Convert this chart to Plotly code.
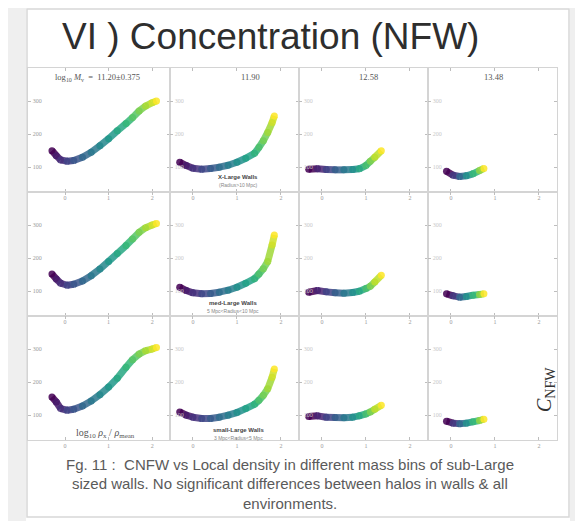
import plotly.graph_objects as go
from plotly.colors import sample_colorscale

# page body has an 8px margin, so the figure is shrunk and coordinates shifted
OFF = 8
W, H = 583 - OFF, 521 - OFF

# ---------------- data ----------------
mass_labels = ["log<sub>10</sub> <i>M</i><sub>v</sub>  =  11.20±0.375", "11.90", "12.58", "13.48"]
wall_titles = ["X-Large Walls", "med-Large Walls", "small-Large Walls"]
wall_sub = ["(Radius&gt;10 Mpc)", "5 Mpc&lt;Radius&lt;10 Mpc", "3 Mpc&lt;Radius&lt;5 Mpc"]
y_ticks = [100, 200, 300]
x_ticks = [0, 1, 2]

x_c1 = [-0.3, -0.2, -0.1, 0.05, 0.2, 0.4, 0.6, 0.8, 1.0, 1.2, 1.4, 1.55, 1.7, 1.85, 2.0, 2.1]
x_c2 = [-0.3, -0.15, 0.0, 0.2, 0.4, 0.6, 0.8, 1.0, 1.2, 1.4, 1.5, 1.6, 1.7, 1.8, 1.85]
x_c3 = [-0.3, -0.1, 0.1, 0.3, 0.5, 0.7, 0.85, 1.0, 1.1, 1.2, 1.35]
x_c4 = [-0.1, 0.05, 0.2, 0.35, 0.5, 0.65, 0.75]

y_r1c1 = [150, 135, 122, 118, 120, 130, 145, 165, 186, 210, 232, 250, 270, 285, 295, 300]
y_r1c2 = [115, 105, 97, 94, 96, 100, 106, 115, 127, 142, 160, 180, 205, 235, 255]
y_r1c3 = [94, 95, 93, 92, 92, 93, 95, 105, 118, 130, 150]
y_r1c4 = [88, 76, 72, 74, 80, 90, 96]

y_r2c1 = [152, 137, 124, 118, 121, 131, 147, 167, 190, 214, 238, 258, 278, 292, 300, 305]
y_r2c2 = [112, 102, 95, 92, 93, 97, 103, 112, 124, 138, 152, 168, 190, 240, 270]
y_r2c3 = [97, 102, 98, 95, 94, 96, 100, 108, 115, 128, 148]
y_r2c4 = [92, 86, 82, 84, 88, 90, 92]

y_r3c1 = [155, 140, 120, 115, 118, 128, 143, 162, 185, 212, 245, 268, 285, 295, 300, 305]
y_r3c2 = [110, 100, 94, 90, 90, 94, 100, 108, 120, 133, 145, 160, 180, 215, 240]
y_r3c3 = [96, 98, 94, 93, 92, 94, 98, 104, 110, 118, 130]
y_r3c4 = [82, 76, 74, 76, 80, 84, 88]

xs = [x_c1, x_c2, x_c3, x_c4]
ys = [[y_r1c1, y_r1c2, y_r1c3, y_r1c4],
      [y_r2c1, y_r2c2, y_r2c3, y_r2c4],
      [y_r3c1, y_r3c2, y_r3c3, y_r3c4]]

# ---------------- layout geometry (screen pixels) ----------------
col_px = [(28, 170), (170, 299), (299, 428), (428, 557)]
row_px = [(68, 192), (192, 316), (316, 440)]
x_ranges = [[-0.85, 2.41], [-0.52, 2.41], [-0.52, 2.41], [-0.52, 2.41]]
y_range = [25, 400]


def px(p):
    return (p - OFF) / W


def py(p):
    return 1 - (p - OFF) / H


fig = go.Figure()
layout = {}
axis_common = dict(showgrid=False, zeroline=False, showline=True, linecolor="#d4d4d4",
                   linewidth=1, mirror="allticks", ticks="inside", ticklen=3,
                   tickcolor="#bdbdbd")

k = 0
for r in range(3):
    for c in range(4):
        k += 1
        sx = "" if k == 1 else str(k)
        xa = dict(axis_common, domain=[px(col_px[c][0]), px(col_px[c][1])],
                  range=x_ranges[c], tickvals=x_ticks,
                  tickfont=dict(size=6, color="#9a9a9a", family="Liberation Serif"),
                  anchor="y" + sx)
        ya = dict(axis_common, domain=[py(row_px[r][1]), py(row_px[r][0])],
                  range=y_range, tickvals=y_ticks,
                  ticklabelposition="inside",
                  tickfont=dict(size=6, color="#9a9a9a" if c == 0 else "#c8c8c8",
                                family="Liberation Serif"),
                  anchor="x" + sx)
        layout["xaxis" + sx] = xa
        layout["yaxis" + sx] = ya

        x = xs[c]
        y = ys[r][c]
        n = len(x)
        cols = sample_colorscale("Viridis", [i / (n - 1) for i in range(n)])
        for i in range(n - 1):
            fig.add_trace(go.Scatter(x=x[i:i + 2], y=y[i:i + 2], mode="lines",
                                     line=dict(color=cols[i], width=7),
                                     opacity=0.85, hoverinfo="skip", showlegend=False,
                                     xaxis="x" + sx, yaxis="y" + sx))
        fig.add_trace(go.Scatter(x=x, y=y, mode="markers",
                                 marker=dict(color=cols, size=7, line=dict(width=0)),
                                 opacity=0.85, showlegend=False,
                                 xaxis="x" + sx, yaxis="y" + sx))

annotations = []


def note(xp, yp, text, size, color, family="Liberation Sans", xanchor="center", angle=0):
    annotations.append(dict(x=px(xp), y=py(yp), xref="paper", yref="paper",
                            text=text, showarrow=False, xanchor=xanchor, yanchor="middle",
                            textangle=angle,
                            font=dict(size=size, color=color, family=family)))


# title
note(270, 36, "VI ) Concentration (NFW)", 37, "#2e2e2e")
# mass headers
hdr_pos = [(53, "left"), (250, "center"), (368, "center"), (493, "center")]
for i, (xp, anc) in enumerate(hdr_pos):
    note(xp, 77, mass_labels[i], 8.5, "#555", "Liberation Serif", anc)
# wall labels
wall_pos = [(238, 177, 185), (233, 303, 311), (238, 430, 438)]
for i, (xp, y1, y2) in enumerate(wall_pos):
    note(xp, y1, "<b>" + wall_titles[i] + "</b>", 6, "#444")
    note(xp, y2, wall_sub[i], 5, "#888")
# x-axis label inside bottom-left panel
note(105, 433, "log<sub>10</sub> <i>ρ</i><sub>x</sub> / <i>ρ</i><sub>mean</sub>",
     10, "#555", "Liberation Serif")
# y label C_NFW
note(545, 390, "<i>C</i><sub>NFW</sub>", 20, "#333", "Liberation Serif", angle=-90)
# caption
cap = ["Fg. 11 :  CNFW vs Local density in different mass bins of sub-Large",
       "sized walls. No significant differences between halos in walls & all",
       "environments."]
for i, t in enumerate(cap):
    note(290, 464 + 19.5 * i, t, 15, "#5a5a5a")

shapes = [
    dict(type="rect", xref="paper", yref="paper", x0=0, x1=px(26), y0=0, y1=1,
         fillcolor="#efefef", line=dict(width=0), layer="below"),
    dict(type="rect", xref="paper", yref="paper", x0=px(570), x1=1, y0=0, y1=1,
         fillcolor="#efefef", line=dict(width=0), layer="below"),
    dict(type="rect", xref="paper", yref="paper", x0=px(27), x1=px(569), y0=py(517), y1=py(9),
         fillcolor="rgba(0,0,0,0)", line=dict(color="#d8d8d8", width=1.5), layer="below"),
]

fig.update_layout(width=W, height=H, margin=dict(l=0, r=0, t=0, b=0),
                  paper_bgcolor="white", plot_bgcolor="white",
                  annotations=annotations, shapes=shapes, **layout)
fig.write_html("out.html")
